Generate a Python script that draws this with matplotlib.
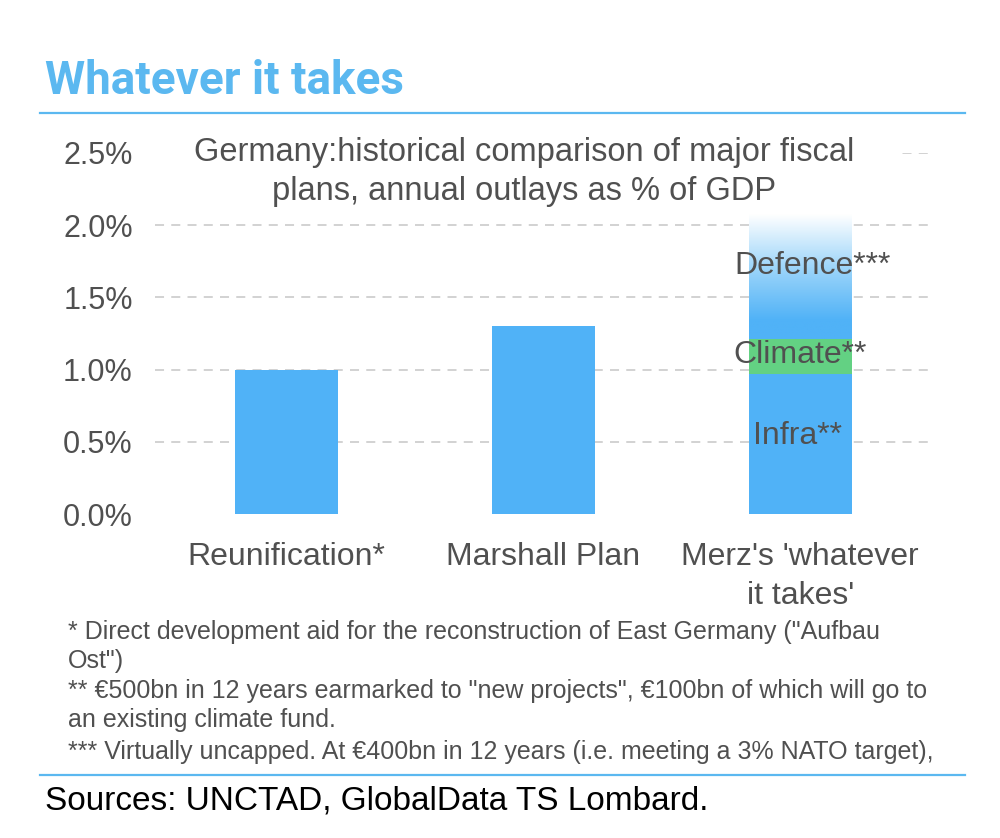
import numpy as np
import matplotlib
matplotlib.use("Agg")
import matplotlib.pyplot as plt
from matplotlib.colors import LinearSegmentedColormap
from matplotlib.lines import Line2D
from matplotlib.patches import Rectangle

# ── Data ─────────────────────────────────────────────────────────────────────
categories = ["Reunification*", "Marshall Plan", "Merz's 'whatever\nit takes'"]
single_values = [1.0, 1.3]          # first two plans, % of GDP
merz_parts = ["Infra**", "Climate**", "Defence***"]
merz_values = [0.97, 0.24, 0.86]    # stacked components, % of GDP
yticks = [0.0, 0.5, 1.0, 1.5, 2.0, 2.5]

footnotes = [
    '* Direct development aid for the reconstruction of East Germany ("Aufbau',
    'Ost")',
    '** €500bn in 12 years earmarked to "new projects", €100bn of which will go to',
    'an existing climate fund.',
    '*** Virtually uncapped. At €400bn in 12 years (i.e. meeting a 3% NATO target),',
]

# ── Style ────────────────────────────────────────────────────────────────────
BLUE = "#50B2F7"
GREEN = "#63D183"
ACCENT = "#5BB8F0"
TEXT = "#505050"
plt.rcParams["font.family"] = ["Liberation Sans", "DejaVu Sans"]

fig = plt.figure(figsize=(10, 8.38), dpi=100)
ax = fig.add_axes([0.155, 1 - 514 / 838, 0.775, (514 - 153) / 838])

x = np.arange(len(categories))
w = 0.40

ax.bar(x[:2], single_values, w, color=BLUE, zorder=2)

# Merz stack: infra, climate, then defence as a fading gradient
bottoms = np.concatenate([[0], np.cumsum(merz_values)[:-1]])
ax.bar(x[2], merz_values[0], w, bottom=bottoms[0], color=BLUE, zorder=2)
ax.bar(x[2], merz_values[1], w, bottom=bottoms[1], color=GREEN, zorder=2)

fade = LinearSegmentedColormap.from_list(
    "fade", [(0, BLUE), (0.15, BLUE), (0.58, "#9fd6fa"), (1.0, "#ffffff")])
grad = np.linspace(0, 1, 256).reshape(-1, 1)
ax.imshow(grad, cmap=fade, origin="lower", aspect="auto", zorder=2,
          extent=[x[2] - w / 2, x[2] + w / 2, bottoms[2], bottoms[2] + merz_values[2]])

label_pos = [0.54, 1.10, 1.72]
label_dx = [-0.01, 0.0, 0.05]
for name, yv, dx in zip(merz_parts, label_pos, label_dx):
    ax.text(x[2] + dx, yv, name, ha="center", va="center", fontsize=23,
            color=TEXT, zorder=3)

ax.set_xlim(-0.51, 2.505)
ax.set_ylim(0, 2.5)
ax.set_yticks(yticks)
ax.set_yticklabels([f"{v:.1f}%" for v in yticks], fontsize=22, color=TEXT)
ax.set_xticks(x)
ax.set_xticklabels(categories, fontsize=23, color=TEXT, linespacing=1.4)
ax.tick_params(axis="y", length=0, pad=16)
ax.tick_params(axis="x", length=0, pad=20)
for s in ax.spines.values():
    s.set_visible(False)
ax.grid(axis="y", color="#cfcfcf", linestyle=(0, (5, 4)), linewidth=1.3, zorder=0)
ax.get_ygridlines()[0].set_visible(False)
ax.set_axisbelow(True)

# white panel behind the subtitle hides the top gridline
ax.add_patch(Rectangle((-0.51, 2.42), 2.89, 0.2, facecolor="white",
                       edgecolor="none", zorder=1, clip_on=False))
ax.text(0.925, 2.37, "Germany:historical comparison of major fiscal\nplans, annual outlays as % of GDP",
        ha="center", va="center", fontsize=23.5, color=TEXT, linespacing=1.35, zorder=4)

# ── Header / footer ─────────────────────────────────────────────────────────
fig.text(0.045, 1 - 81 / 838, "Whatever it takes", fontsize=33, fontweight="bold",
         color=ACCENT, family=["Roboto", "DejaVu Sans"], va="center", ha="left")
fig.add_artist(Line2D([0.04, 0.965], [1 - 113 / 838] * 2, color=ACCENT, lw=1.6))
fig.add_artist(Line2D([0.04, 0.965], [1 - 775 / 838] * 2, color=ACCENT, lw=1.6))

note_y = [632, 661, 691, 720, 752]
for line, yp in zip(footnotes, note_y):
    fig.text(0.068, 1 - yp / 838, line, fontsize=18, color=TEXT,
             va="center", ha="left")

fig.text(0.045, 1 - 801 / 838, "Sources: UNCTAD, GlobalData TS Lombard.", fontsize=24,
         color="black", va="center", ha="left")

fig.savefig("out.png", dpi=100, facecolor="white")
